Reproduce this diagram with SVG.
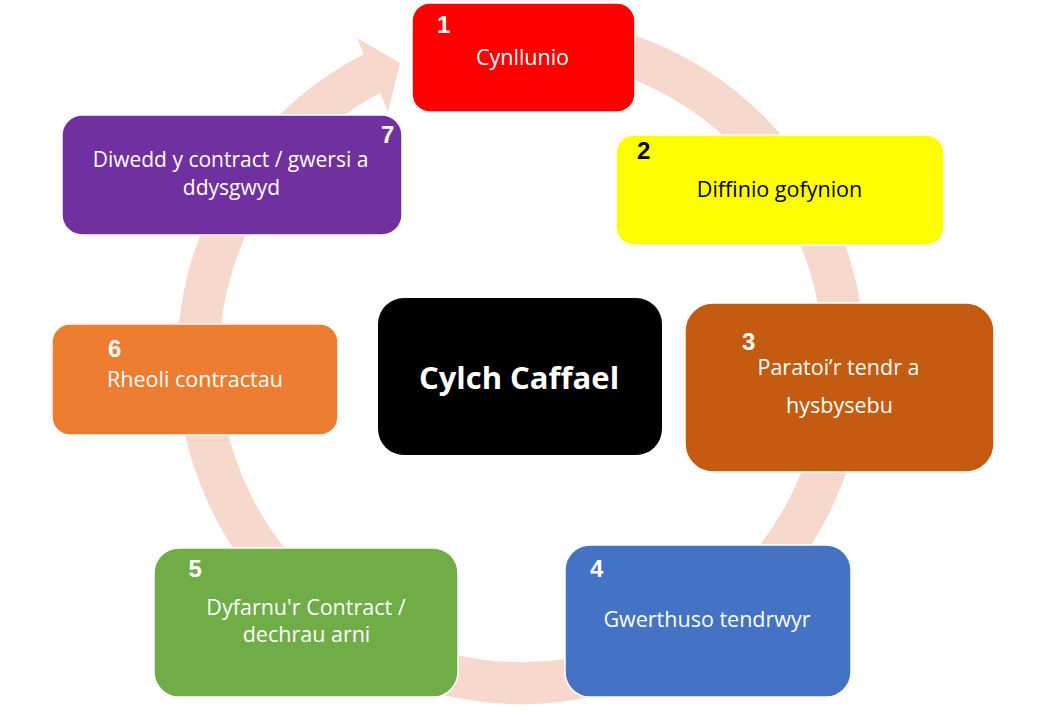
<svg xmlns="http://www.w3.org/2000/svg" width="1043" height="715" viewBox="0 0 1043 715">
<style>
.box{stroke:#FFFFFF;stroke-width:1.5}
.t{font-family:"Open Sans","Noto Sans",sans-serif;font-size:21.5px;fill:#FFFFFF;text-anchor:middle}
.n{font-family:"Liberation Sans",Arial,sans-serif;font-size:24px;font-weight:bold;fill:#FFFFFF}
.dark{fill:#000000}
.ring{fill:none;stroke:#F7D8CD;stroke-width:42}
</style>
<rect width="1043" height="715" fill="#FFFFFF"/>
<g id="connectors">
<path class="ring" d="M476.05,40.14 A323,323 0 1 1 376.88,70.94"/>
<polygon points="357,38 400,63 388,112" fill="#F7D8CD"/>
</g>
<g id="node1">
<rect class="box" x="412" y="3" width="223" height="109" rx="18" fill="#FF0000"/>
<text class="n" x="437" y="33">1</text>
<text class="t" x="522.5" y="65">Cynllunio</text>
</g>
<g id="node2">
<rect class="box" x="616" y="135" width="328" height="110" rx="18" fill="#FFFF00"/>
<text class="n dark" x="637" y="159">2</text>
<text class="t dark" x="779.5" y="197">Diffinio gofynion</text>
</g>
<g id="node3">
<rect class="box" x="685" y="303" width="309" height="169" rx="28" fill="#C55A11"/>
<text class="n" x="742" y="350">3</text>
<text class="t" x="838.5" y="375">Paratoi’r tendr a</text>
<text class="t" x="839.5" y="413">hysbysebu</text>
</g>
<g id="node4">
<rect class="box" x="565" y="545" width="286" height="152" rx="25" fill="#4472C4"/>
<text class="n" x="590" y="577">4</text>
<text class="t" x="707" y="627">Gwerthuso tendrwyr</text>
</g>
<g id="node5">
<rect class="box" x="154" y="548" width="304" height="149" rx="25" fill="#70AD47"/>
<text class="n" x="188.5" y="577">5</text>
<text class="t" x="306" y="615">Dyfarnu'r Contract /</text>
<text class="t" x="306.5" y="642">dechrau arni</text>
</g>
<g id="node6">
<rect class="box" x="52" y="324" width="286" height="111" rx="18" fill="#ED7D31"/>
<text class="n" x="108" y="357">6</text>
<text class="t" x="195" y="387">Rheoli contractau</text>
</g>
<g id="node7">
<rect class="box" x="62" y="115" width="340" height="120" rx="20" fill="#7030A0"/>
<text class="n" x="381" y="143">7</text>
<text class="t" x="230.5" y="166.5" style="font-size:21px">Diwedd y contract / gwersi a</text>
<text class="t" x="231.5" y="195" style="font-size:21px">ddysgwyd</text>
</g>
<g id="center">
<rect x="378" y="298" width="284" height="157" rx="26" fill="#000000"/>
<text class="t" x="519" y="389" style="font-size:31px;font-weight:bold">Cylch Caffael</text>
</g>
</svg>
